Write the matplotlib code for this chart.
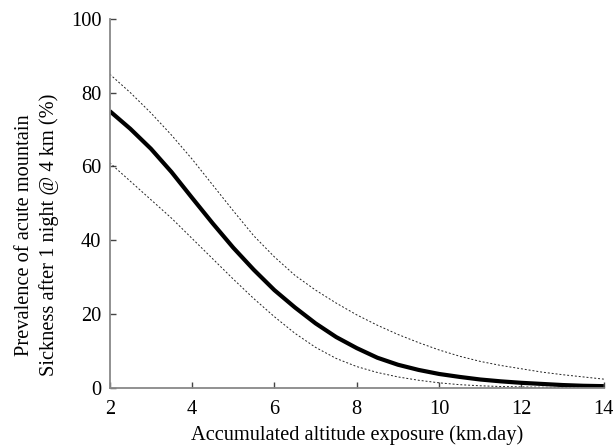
### Prevalence of AMS vs accumulated altitude exposure, with CI band as dotted lines ###

import matplotlib.pyplot as plt

# Values
exposure = [2, 2.5, 3, 3.5, 4, 4.5, 5, 5.5, 6, 6.5, 7, 7.5, 8, 8.5, 9, 9.5,
            10, 10.5, 11, 11.5, 12, 12.5, 13, 13.5, 14]
prevalence = [75, 70.2, 64.8, 58.5, 51.5, 44.6, 38, 32, 26.5, 21.8, 17.5, 13.8, 10.8, 8.2, 6.3, 4.9,
              3.8, 3.0, 2.3, 1.8, 1.4, 1.1, 0.8, 0.6, 0.5]
upper_ci = [85, 80, 74.5, 68.5, 62, 55, 48, 41.2, 35.5, 30.5, 26.5, 23, 19.8, 17, 14.5, 12.3,
            10.3, 8.6, 7.2, 6.1, 5.2, 4.3, 3.6, 3, 2.4]
lower_ci = [61, 56, 51, 46, 40.5, 35, 29.5, 24.2, 19.3, 14.8, 11, 8, 5.8, 4.2, 3, 2.1,
            1.4, 0.9, 0.6, 0.4, 0.3, 0.2, 0.15, 0.1, 0.08]

xticks = [2, 4, 6, 8, 10, 12, 14]
yticks = [0, 20, 40, 60, 80, 100]

plt.rcParams['font.family'] = ['Liberation Serif', 'DejaVu Serif']
plt.rcParams['font.size'] = 14.7

fig = plt.figure(figsize=(6.13, 4.47), dpi=100)
ax = fig.add_axes([0.179, 0.132, 0.806, 0.826])

# Curves
ax.plot(exposure, upper_ci, color='#222222', linewidth=0.7, linestyle=(0, (2, 2)))
ax.plot(exposure, lower_ci, color='#222222', linewidth=0.7, linestyle=(0, (2, 2)))
ax.plot(exposure, prevalence, color='black', linewidth=3, solid_capstyle='butt',
        solid_joinstyle='round')

# Axes style
ax.set_xlim(2, 14)
ax.set_ylim(0, 100)
ax.set_xticks(xticks)
ax.set_yticks(yticks)
for side in ['top', 'right']:
    ax.spines[side].set_visible(False)
for side in ['left', 'bottom']:
    ax.spines[side].set_color('#888888')
    ax.spines[side].set_linewidth(1.3)
ax.tick_params(direction='in', length=4, width=1, color='#444444')
ax.tick_params(axis='x', pad=9)
ax.tick_params(axis='y', pad=6)

# Labels
ax.set_xlabel('Accumulated altitude exposure (km.day)', labelpad=4)
ax.set_ylabel('Prevalence of acute mountain\nSickness after 1 night @ 4 km (%)',
              linespacing=1.3)
ax.yaxis.set_label_coords(-0.103, 0.415)

# Save
plt.savefig('out.png', dpi=100)
